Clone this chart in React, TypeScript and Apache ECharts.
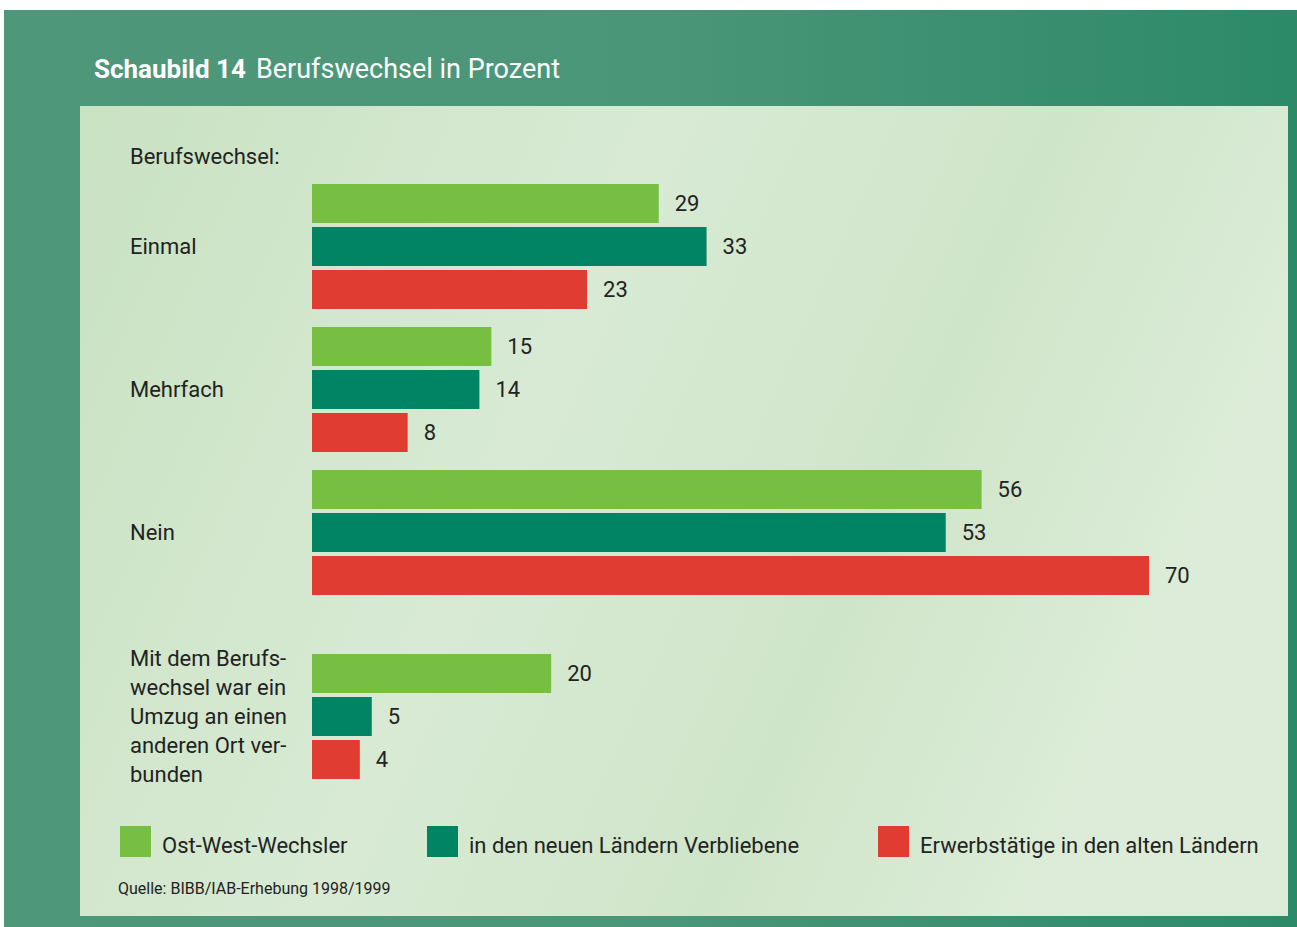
import React, { useEffect, useRef } from "react";
import * as echarts from "echarts";

const categories = [
  "Einmal",
  "Mehrfach",
  "Nein",
  "Mit dem Berufs-\nwechsel war ein\nUmzug an einen\nanderen Ort ver-\nbunden",
];
const seriesNames = [
  "Ost-West-Wechsler",
  "in den neuen Ländern Verbliebene",
  "Erwerbstätige in den alten Ländern",
];
const ostWestWechsler = [29, 15, 56, 20];
const neueLaender = [33, 14, 53, 5];
const alteLaender = [23, 8, 70, 4];
const seriesValues = [ostWestWechsler, neueLaender, alteLaender];

const colors = ["#76bf43", "#008464", "#e03c31"];
const FONT = "Roboto, 'Liberation Sans', sans-serif";
const groupCenters = [246.5, 389.5, 532.5, 716.5];
const legendLefts = [120, 427, 878];

export default function App() {
  const ref = useRef<HTMLDivElement>(null);
  useEffect(() => {
    if (!ref.current) return;
    const chart = echarts.init(ref.current, undefined, { renderer: "svg" });
    const grids = groupCenters.map((c) => ({
      left: 312,
      width: 837,
      top: c - 64.5,
      height: 129,
    }));
    const xAxes = categories.map((_, g) => ({
      type: "value",
      gridIndex: g,
      min: 0,
      max: 70,
      show: false,
    }));
    const yAxes = categories.map((cat, g) => ({
      type: "category",
      gridIndex: g,
      data: [cat],
      inverse: true,
      axisLine: { show: false },
      axisTick: { show: false },
      splitLine: { show: false },
      axisLabel: {
        show: true,
        align: "left",
        margin: 182,
        fontSize: 22,
        lineHeight: 29,
        color: "#222",
        fontFamily: FONT,
      },
    }));
    const series: any[] = [];
    categories.forEach((_, g) => {
      seriesNames.forEach((name, s) => {
        series.push({
          type: "bar",
          name,
          xAxisIndex: g,
          yAxisIndex: g,
          data: [seriesValues[s][g]],
          barWidth: 39,
          barGap: "10.26%",
          itemStyle: { color: colors[s] },
          label: {
            show: true,
            position: "right",
            distance: 16,
            fontSize: 22,
            color: "#222",
            fontFamily: FONT,
          },
        });
      });
    });
    const legends = seriesNames.map((name, i) => ({
      data: [name],
      left: legendLefts[i],
      top: 826,
      itemWidth: 31,
      itemHeight: 31,
      icon: "rect",
      padding: 0,
      selectedMode: false,
      formatter: "{a|{name}}",
      textStyle: {
        fontSize: 22,
        color: "#222",
        fontFamily: FONT,
        rich: {
          a: {
            fontSize: 22,
            color: "#222",
            fontFamily: FONT,
            padding: [8, 0, 0, 6],
          },
        },
      },
    }));
    chart.setOption({
      animation: false,
      backgroundColor: "#ffffff",
      grid: grids,
      xAxis: xAxes,
      yAxis: yAxes,
      series,
      legend: legends,
      graphic: [
        {
          type: "rect",
          z: -10,
          shape: { x: 4, y: 10, width: 1293, height: 917 },
          style: {
            fill: new echarts.graphic.LinearGradient(0, 0, 1, 0, [
              { offset: 0, color: "#4f977a" },
              { offset: 0.5, color: "#4a9678" },
              { offset: 1, color: "#2c8a69" },
            ]),
          },
        },
        {
          type: "rect",
          z: -9,
          shape: { x: 80, y: 106, width: 1208, height: 810 },
          style: {
            fill: new echarts.graphic.LinearGradient(0, 0, 1, 0.3, [
              { offset: 0, color: "#c9e2c2" },
              { offset: 0.45, color: "#d8ead4" },
              { offset: 0.75, color: "#cfe5c9" },
              { offset: 1, color: "#dcecd8" },
            ]),
          },
        },
        {
          type: "text",
          z: 5,
          left: 94,
          top: 55,
          style: {
            text: "{b|Schaubild 14}   {r|Berufswechsel in Prozent}",
            rich: {
              b: { fontSize: 26, fontWeight: "bold", fill: "#ffffff", fontFamily: FONT },
              r: { fontSize: 27, fill: "#ffffff", fontFamily: FONT },
            },
          } as any,
        },
        {
          type: "text",
          z: 5,
          left: 130,
          top: 145,
          style: { text: "Berufswechsel:", fontSize: 22, fill: "#222", fontFamily: FONT },
        },
        {
          type: "text",
          z: 5,
          left: 118,
          top: 880,
          style: {
            text: "Quelle: BIBB/IAB-Erhebung 1998/1999",
            fontSize: 16,
            fill: "#222",
            fontFamily: FONT,
          },
        },
      ],
    });
    return () => chart.dispose();
  }, []);
  return (
    <div
      ref={ref}
      style={{ position: "absolute", left: 0, top: 0, width: 1297, height: 927 }}
    />
  );
}
